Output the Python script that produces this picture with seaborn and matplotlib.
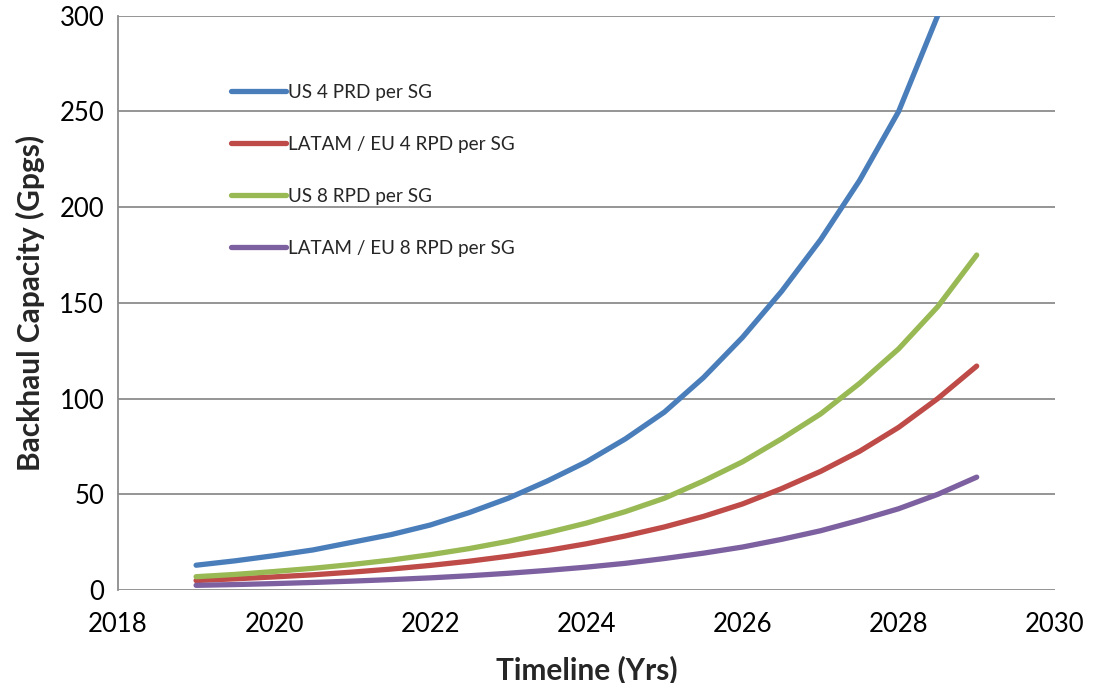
import matplotlib
matplotlib.use("Agg")
import matplotlib.pyplot as plt
import seaborn as sns
import pandas as pd

years = [2019, 2019.5, 2020, 2020.5, 2021, 2021.5, 2022, 2022.5, 2023, 2023.5, 2024,
         2024.5, 2025, 2025.5, 2026, 2026.5, 2027, 2027.5, 2028, 2028.5, 2029]
us4 = [13, 15.3, 18, 21, 25, 29, 34, 40.5, 48, 57, 67, 79, 93, 111, 132, 156, 183, 214, 250, 300, 348]
latam4 = [5, 5.9, 6.9, 8.0, 9.4, 11.0, 12.9, 15.1, 17.7, 20.7, 24.2, 28.3, 33, 38.5, 45, 53, 62, 72.5, 85, 100, 117]
us8 = [7, 8.2, 9.7, 11.4, 13.4, 15.7, 18.5, 21.7, 25.5, 30, 35, 41, 48, 57, 67, 79, 92, 108, 126, 148, 175]
latam8 = [2.5, 2.9, 3.4, 4.0, 4.7, 5.5, 6.4, 7.5, 8.8, 10.3, 12, 14, 16.5, 19.3, 22.5, 26.5, 31, 36.5, 42.5, 50, 59]
series_names = ["US 4 PRD per SG", "LATAM / EU 4 RPD per SG", "US 8 RPD per SG", "LATAM / EU 8 RPD per SG"]
colors = ["#4A7EBB", "#BE4B48", "#98B954", "#7D60A0"]

rows = []
for name, vals in zip(series_names, [us4, latam4, us8, latam8]):
    for y, v in zip(years, vals):
        rows.append({"Year": y, "Value": v, "Series": name})
df = pd.DataFrame(rows)

sns.set_theme(style="white")
plt.rcParams['font.family'] = ['Lato', 'DejaVu Sans']

fig = plt.figure(figsize=(10.93, 6.83), dpi=100)
ax = fig.add_axes([0.108, 0.136, 0.857, 0.841])
sns.lineplot(data=df, x="Year", y="Value", hue="Series", palette=colors,
             hue_order=series_names, linewidth=3.8, ax=ax, legend=True)
for ln in ax.get_lines():
    ln.set_solid_capstyle("round")
    ln.set_solid_joinstyle("round")

ax.set_xlim(2018, 2030)
ax.set_ylim(0, 300)
ax.set_xticks(range(2018, 2031, 2))
ax.set_yticks(range(0, 301, 50))
ax.yaxis.grid(True, color="#8C8C8C", linewidth=1.3)
ax.xaxis.grid(False)
for s in ["top", "right", "bottom"]:
    ax.spines[s].set_visible(False)
ax.spines["left"].set_color("#8C8C8C")
ax.spines["left"].set_linewidth(1.3)
ax.tick_params(axis="both", length=0, labelsize=18.5, colors="black")
ax.tick_params(axis="x", pad=16)
ax.tick_params(axis="y", pad=10)
ax.set_xlabel("Timeline (Yrs)", fontsize=21.5, fontweight="bold", labelpad=13)
ax.set_ylabel("Backhaul Capacity (Gpgs)", fontsize=21.5, fontweight="bold", labelpad=10)

leg = ax.legend(loc="upper left", bbox_to_anchor=(0.113, 0.895), frameon=False,
                fontsize=13.6, handlelength=2.9, handletextpad=0.08, labelspacing=1.86,
                borderaxespad=0)
for h in leg.get_lines():
    h.set_linewidth(3.8)
    h.set_solid_capstyle("round")

fig.savefig("out.png", dpi=100)
